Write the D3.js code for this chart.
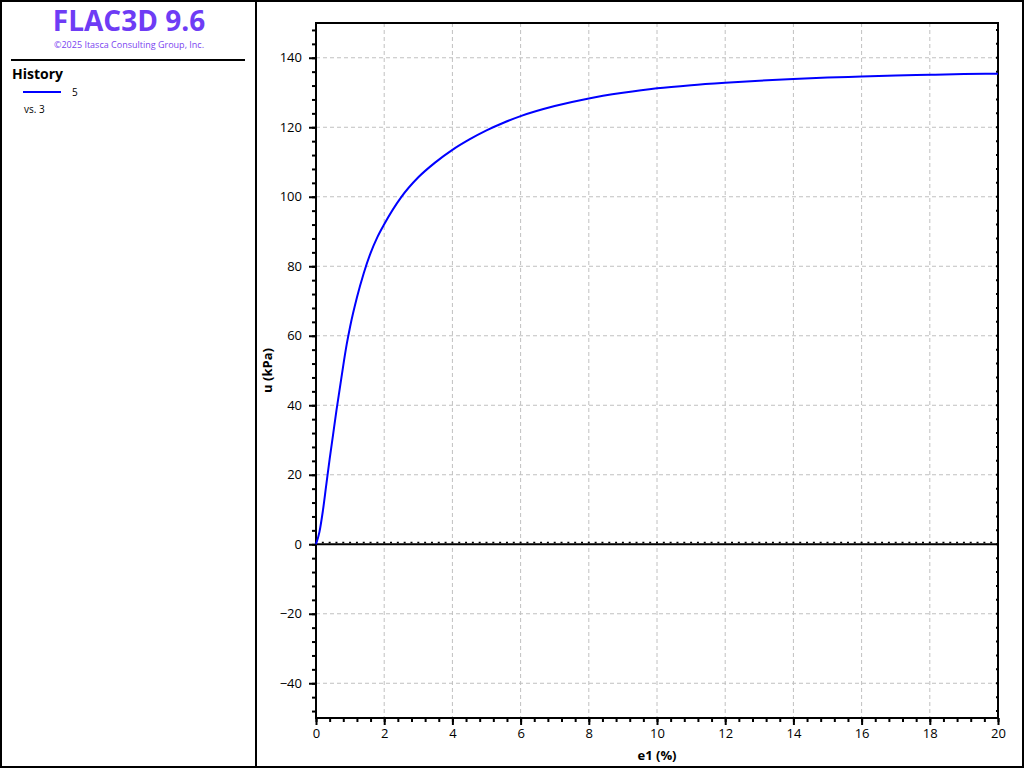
<!DOCTYPE html>
<html><head><meta charset="utf-8">
<script src="https://cdn.jsdelivr.net/npm/d3@7"></script>
<style>html,body{margin:0;padding:0;background:#fff;}svg{display:block;font-family:"Open Sans","Noto Sans",sans-serif;}</style>
</head><body>
<svg id="c" width="1024" height="768"></svg>
<script>
const strainPct = [0, 0.1, 0.2, 0.3, 0.4, 0.5, 0.6, 0.7, 0.8, 0.9, 1.0, 1.2, 1.4, 1.6, 1.8, 2.0, 2.5, 3.0, 3.5, 4.0, 4.5, 5.0, 5.5, 6, 7, 8, 9, 10, 11, 12, 13, 14, 15, 16, 17, 18, 19, 20];
const porePressure = [0, 3.5, 9.5, 17, 24.5, 31.5, 38.5, 45, 51.5, 57.5, 62.6, 71.0, 78.0, 83.8, 88.4, 92.1, 99.9, 105.6, 109.9, 113.5, 116.5, 119.1, 121.3, 123.2, 126.1, 128.3, 129.9, 131.2, 132.1, 132.8, 133.4, 133.9, 134.3, 134.6, 134.9, 135.1, 135.3, 135.4];
const xTicks = [0, 2, 4, 6, 8, 10, 12, 14, 16, 18, 20];
const yTicks = [-40, -20, 0, 20, 40, 60, 80, 100, 120, 140];
const seriesName = "5";
const seriesVs = "vs. 3";

const svg = d3.select("#c");
const W = 1024, H = 768;
// frame
svg.append("rect").attr("x",1).attr("y",1).attr("width",W-2).attr("height",H-2).attr("fill","none").attr("stroke","#000").attr("stroke-width",2);
svg.append("line").attr("x1",256).attr("x2",256).attr("y1",0).attr("y2",H).attr("stroke","#000").attr("stroke-width",2);

// left panel
svg.append("text").attr("x",129).attr("y",31).attr("text-anchor","middle").attr("font-size",28).attr("font-weight",700).attr("fill","#6e3cf5").text("FLAC3D 9.6");
svg.append("text").attr("x",129).attr("y",48).attr("text-anchor","middle").attr("font-size",9).attr("fill","#7a44f0").text("\u00A92025 Itasca Consulting Group, Inc.");
svg.append("line").attr("x1",11).attr("x2",245).attr("y1",60).attr("y2",60).attr("stroke","#000").attr("stroke-width",2);
svg.append("text").attr("x",12).attr("y",79).attr("font-size",14).attr("font-weight",700).attr("fill","#000").text("History");
svg.append("line").attr("x1",23).attr("x2",61).attr("y1",92).attr("y2",92).attr("stroke","#0000ff").attr("stroke-width",2);
svg.append("text").attr("x",72).attr("y",96).attr("font-size",10).attr("fill","#000").text(seriesName);
svg.append("text").attr("x",24).attr("y",113).attr("font-size",10).attr("fill","#000").text(seriesVs);

// plot
const L = 316, R = 998, T = 23, B = 718;
const x = d3.scaleLinear().domain([0,20]).range([L,R]);
const y = d3.scaleLinear().domain([-50,150]).range([B,T]);
const g = svg.append("g");

// grid
g.selectAll(".vg").data(xTicks.filter(d=>d>0&&d<20)).join("line")
  .attr("x1",d=>x(d)).attr("x2",d=>x(d)).attr("y1",T).attr("y2",B)
  .attr("stroke","#c0c0c0").attr("stroke-width",1).attr("stroke-dasharray","4,3");
g.selectAll(".hg").data(yTicks.filter(d=>d!==0)).join("line")
  .attr("x1",L).attr("x2",R).attr("y1",d=>y(d)).attr("y2",d=>y(d))
  .attr("stroke","#c0c0c0").attr("stroke-width",1).attr("stroke-dasharray","4,3");

// zero line with small ticks
g.append("line").attr("x1",L).attr("x2",R).attr("y1",y(0)).attr("y2",y(0)).attr("stroke","#000").attr("stroke-width",2);
const zt = d3.range(0,20.001,0.2);
g.selectAll(".zt").data(zt).join("line").attr("x1",d=>x(d)).attr("x2",d=>x(d))
  .attr("y1",y(0)-1).attr("y2",y(0)-2.5).attr("stroke","#000").attr("stroke-width",2);

// axes
const minorX = d3.range(0,20.001,0.4);
const minorY = d3.range(-48,150.001,4);
const axB = d3.axisBottom(x).tickValues(minorX).tickSize(4).tickFormat("");
g.append("g").attr("transform",`translate(0,${B})`).call(axB).call(s=>{s.select(".domain").remove();s.selectAll("line").attr("stroke","#000").attr("stroke-width",2);});
const axBM = d3.axisBottom(x).tickValues(xTicks).tickSize(7).tickPadding(4).tickFormat(d3.format("d"));
g.append("g").attr("transform",`translate(0,${B})`).call(axBM).call(s=>{s.select(".domain").remove();s.selectAll("line").attr("stroke","#000").attr("stroke-width",2);s.selectAll("text").attr("font-size",13).attr("fill","#000").attr("font-family","'Open Sans',sans-serif");});
const axL = d3.axisLeft(y).tickValues(minorY).tickSize(4).tickFormat("");
g.append("g").attr("transform",`translate(${L},0)`).call(axL).call(s=>{s.select(".domain").remove();s.selectAll("line").attr("stroke","#000").attr("stroke-width",2);});
const axLM = d3.axisLeft(y).tickValues(yTicks).tickSize(7).tickPadding(7).tickFormat(d3.format("d"));
g.append("g").attr("transform",`translate(${L},0)`).call(axLM).call(s=>{s.select(".domain").remove();s.selectAll("line").attr("stroke","#000").attr("stroke-width",2);s.selectAll("text").attr("font-size",13).attr("fill","#000").attr("font-family","'Open Sans',sans-serif");});
// right minor ticks (inside)
g.selectAll(".rt").data(minorY).join("line").attr("x1",R).attr("x2",R-2).attr("y1",d=>y(d)).attr("y2",d=>y(d)).attr("stroke","#000").attr("stroke-width",2);

// frame lines
g.append("line").attr("x1",L).attr("x2",L).attr("y1",T-1).attr("y2",B+1).attr("stroke","#000").attr("stroke-width",2);
g.append("line").attr("x1",R).attr("x2",R).attr("y1",T-1).attr("y2",B+1).attr("stroke","#000").attr("stroke-width",2);
g.append("line").attr("x1",L-1).attr("x2",R+1).attr("y1",T).attr("y2",T).attr("stroke","#000").attr("stroke-width",2);
g.append("line").attr("x1",L-1).attr("x2",R+1).attr("y1",B).attr("y2",B).attr("stroke","#000").attr("stroke-width",2);

// curve
const data = strainPct.map((e,i)=>[e,porePressure[i]]);
g.append("path").datum(data).attr("fill","none").attr("stroke","#0000ff").attr("stroke-width",2)
  .attr("d",d3.line().x(d=>x(d[0])).y(d=>y(d[1])).curve(d3.curveMonotoneX));

// axis titles
svg.append("text").attr("x",(L+R)/2).attr("y",760).attr("text-anchor","middle").attr("font-size",13).attr("font-weight",700).attr("fill","#000").text("e1 (%)");
svg.append("text").attr("transform",`translate(272,${(T+B)/2}) rotate(-90)`).attr("text-anchor","middle").attr("font-size",13).attr("font-weight",700).attr("fill","#000").text("u (kPa)");
</script>
</body></html>
